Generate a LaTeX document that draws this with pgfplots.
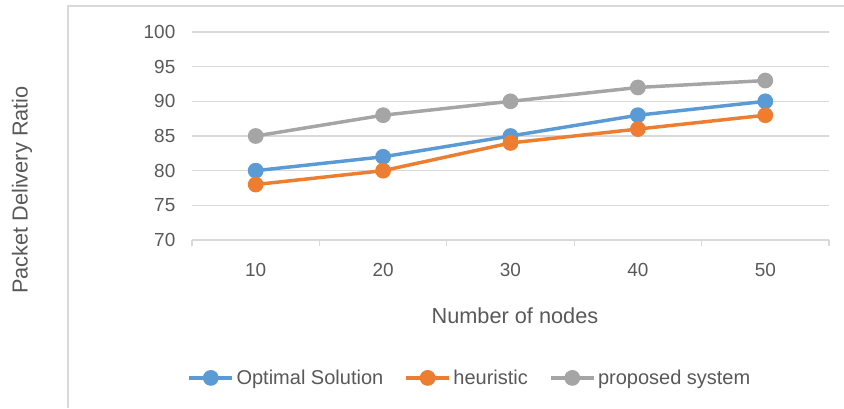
\documentclass[border=0pt]{standalone}
\usepackage{pgfplots}
\pgfplotsset{compat=1.18}
\usepackage{fontspec}
\setmainfont{Liberation Sans}
\definecolor{cblue}{HTML}{5B9BD5}
\definecolor{corange}{HTML}{ED7D31}
\definecolor{cgray}{HTML}{A5A5A5}
\definecolor{ctext}{HTML}{595959}
\definecolor{cgrid}{HTML}{D9D9D9}
\begin{document}
\begin{tikzpicture}
\useasboundingbox (0,0) rectangle (633pt,306pt);
\draw[cgrid, line width=1.5pt] (51pt,0) -- (51pt,301.5pt) -- (640pt,301.5pt);
\begin{axis}[
  at={(144pt,126pt)}, anchor=south west,
  scale only axis, width=477.75pt, height=156pt,
  xmin=0.5, xmax=5.5, ymin=70, ymax=100,
  xtick={1,2,3,4,5}, xticklabels={10,20,30,40,50},
  minor xtick={0.5,1.5,2.5,3.5,4.5,5.5},
  ytick={70,75,80,85,90,95,100},
  axis lines*=left,
  x axis line style={cgrid, line width=1pt, -},
  y axis line style={draw=none},
  major tick length=0pt,
  minor tick length=4.5pt,
  tick align=outside,
  minor tick style={cgrid, line width=1pt},
  ymajorgrids, grid style={cgrid, line width=1pt},
  /pgf/number format/assume math mode=true,
  tick label style={font=\fontsize{14.2}{16}\selectfont, text=ctext},
  yticklabel style={xshift=-9pt},
  xticklabel style={yshift=-14pt},
  xlabel={Number of nodes}, ylabel={Packet Delivery Ratio},
  label style={font=\fontsize{16.3}{19}\selectfont, text=ctext},
  xlabel style={at={(axis description cs:0.507,-0.365)}, anchor=center},
  ylabel style={at={(axis description cs:-0.267,0.24)}, anchor=center, rotate=0},
  legend style={at={(axis description cs:0.437,-0.663)}, anchor=center, draw=none,
    font=\fontsize{15}{18}\selectfont, text=ctext, legend columns=3,
    /tikz/every even column/.append style={column sep=14pt}},
  legend image code/.code={
    \draw[#1, mark repeat=2, mark phase=2] plot coordinates {(0pt,0pt) (16pt,0pt) (32pt,0pt)};},
  every axis plot/.append style={line width=2.6pt, mark=*, mark size=4.6pt},
]
\addplot[cblue, mark options={fill=cblue, draw=cblue}] coordinates {(1,80) (2,82) (3,85) (4,88) (5,90)};
\addplot[corange, mark options={fill=corange, draw=corange}] coordinates {(1,78) (2,80) (3,84) (4,86) (5,88)};
\addplot[cgray, mark options={fill=cgray, draw=cgray}] coordinates {(1,85) (2,88) (3,90) (4,92) (5,93)};
\legend{Optimal Solution, heuristic, proposed system}
\end{axis}
\end{tikzpicture}
\end{document}
